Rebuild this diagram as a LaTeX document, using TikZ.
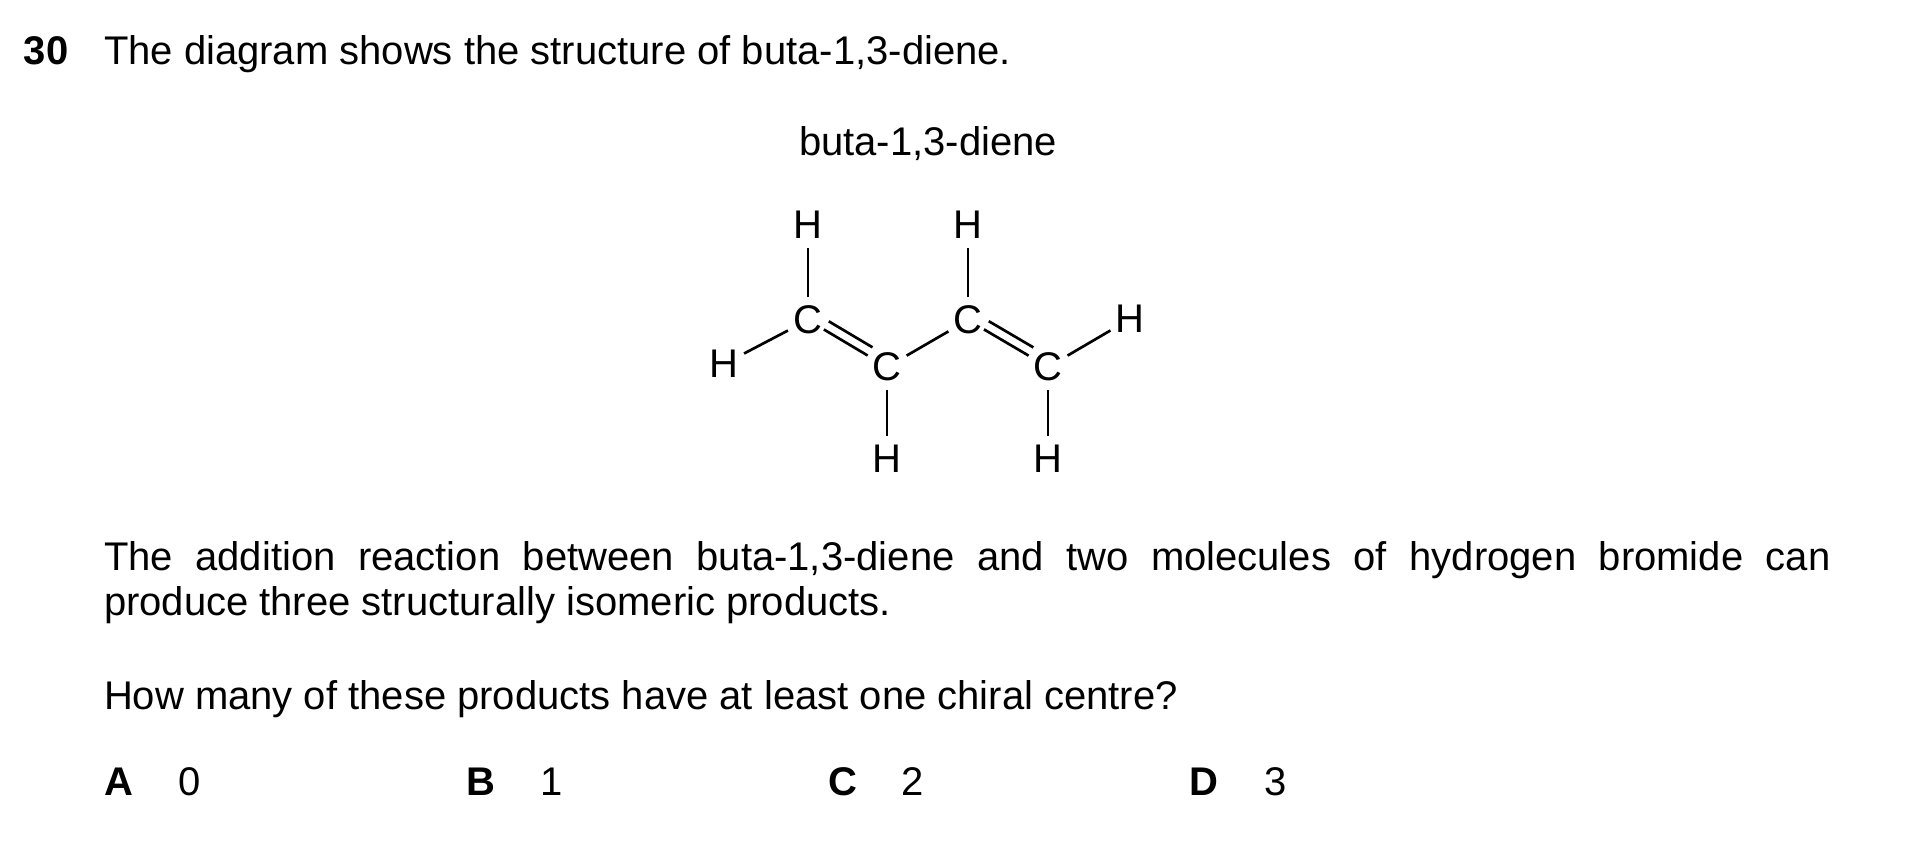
\documentclass[tikz,border=0pt]{standalone}
\usepackage{fontspec}
\setmainfont{Liberation Sans}
\usetikzlibrary{calc}
\begin{document}
\begin{tikzpicture}[x=0.3pt,y=-0.3pt,
  txt/.style={inner sep=0pt,outer sep=0pt,anchor=base west,font=\fontsize{12pt}{13.5pt}\selectfont},
  boldtxt/.style={txt,font=\fontsize{12pt}{13.5pt}\selectfont\bfseries},
  atom/.style={circle,inner sep=0pt,minimum size=13.2pt,font=\fontsize{12pt}{13.5pt}\selectfont},
  bond/.style={line width=0.8pt}]
\useasboundingbox (0,0) rectangle (1914,845);
% header
\node[boldtxt] (num) at (24,64) {30};
\node[txt] (head) at (104,64) {The diagram shows the structure of buta-1,3-diene.};
\node[txt,anchor=base] (title) at (928,155) {buta-1,3-diene};
% molecule
\node[atom] (C1) at (808,320) {C};
\node[atom] (C2) at (887,367) {C};
\node[atom] (C3) at (968,320) {C};
\node[atom] (C4) at (1048,367) {C};
\node[atom] (H1) at (808,225) {H};
\node[atom] (H2) at (724,364) {H};
\node[atom] (H3) at (887,459) {H};
\node[atom] (H4) at (968,225) {H};
\node[atom] (H5) at (1130,319) {H};
\node[atom] (H6) at (1048,459) {H};
\draw[bond] (C1) -- (H1);
\draw[bond] (C1) -- (H2);
\draw[bond] (C2) -- (H3);
\draw[bond] (C2) -- (C3);
\draw[bond] (C3) -- (H4);
\draw[bond] (C4) -- (H5);
\draw[bond] (C4) -- (H6);
% double bonds
\draw[bond] ($(C1)!5.55pt!(C2)$) -- ($(C2)!6.75pt!(C1)$);
\draw[bond] ($(C1)!5.55pt!(C2)!2.85pt!90:(C2)$) -- ($(C2)!6.75pt!(C1)!2.85pt!-90:(C1)$);
\draw[bond] ($(C3)!5.55pt!(C4)$) -- ($(C4)!6.75pt!(C3)$);
\draw[bond] ($(C3)!5.55pt!(C4)!2.85pt!90:(C4)$) -- ($(C4)!6.75pt!(C3)!2.85pt!-90:(C3)$);
% paragraph
\node[txt] (para) at (104,570) {\parbox[t]{518pt}{\setlength{\parindent}{0pt}\fontsize{12pt}{13.5pt}\selectfont The addition reaction between buta-1,3-diene and two molecules of hydrogen bromide can\linebreak produce three structurally isomeric products.}};
\node[txt] (quest) at (104,709) {How many of these products have at least one chiral centre?};
% options
\node[boldtxt] (A) at (104,795) {A};
\node[txt] (a0) at (178,795) {0};
\node[boldtxt] (B) at (466,795) {B};
\node[txt] (b1) at (540,795) {1};
\node[boldtxt] (C) at (828,795) {C};
\node[txt] (c2) at (901,795) {2};
\node[boldtxt] (D) at (1189,795) {D};
\node[txt] (d3) at (1264,795) {3};
\end{tikzpicture}
\end{document}
